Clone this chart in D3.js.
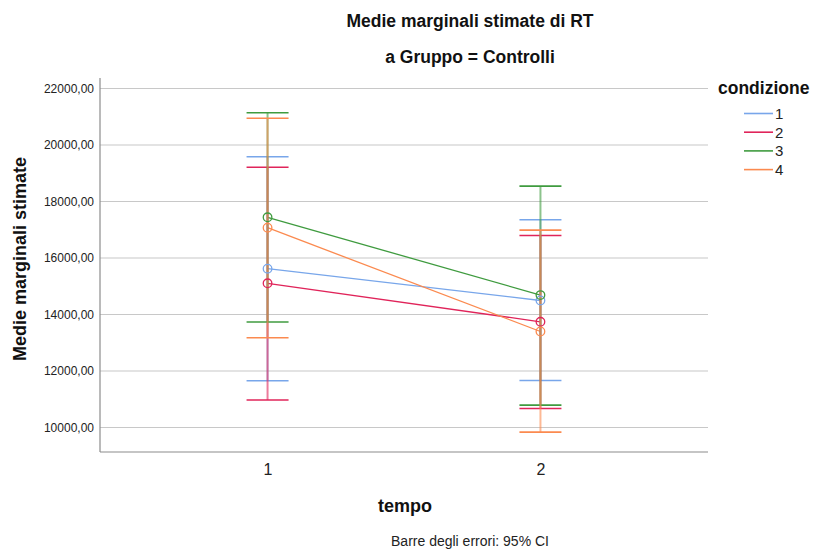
<!DOCTYPE html>
<html><head><meta charset="utf-8">
<script src="https://cdn.jsdelivr.net/npm/d3@7"></script>
<style>
body{margin:0;background:#fff;}
text{font-family:"Liberation Sans",Arial,sans-serif;}
</style></head>
<body><svg id="c" width="814" height="552"></svg>
<script>
const categories = ["1","2"];
const seriesNames = ["1","2","3","4"];
const means = [
  [15621, 14496],
  [15104, 13742],
  [17441, 14687],
  [17073, 13398]
];
const lower = [
  [11657, 11664],
  [10973, 10673],
  [13735, 10793],
  [13179, 9837]
];
const upper = [
  [19586, 17352],
  [19211, 16796],
  [21143, 18545],
  [20945, 16988]
];
const yTicks = [10000,12000,14000,16000,18000,20000,22000];
const colors = ["#78a6ea","#e0245a","#3f9b3f","#fb8a4f"];

const svg = d3.select("#c");
const pLeft = 100, pRight = 708, pTop = 78, pBottom = 452;
const y = d3.scaleLinear().domain([10000,22000]).range([427.5,88.5]);
const x = d3.scalePoint().domain(categories).range([pLeft,pRight]).padding(0.614);

// gridlines
svg.append("g").selectAll("line").data(yTicks).join("line")
  .attr("x1",pLeft).attr("x2",pRight)
  .attr("y1",d=>y(d)).attr("y2",d=>y(d))
  .attr("stroke","#c8c8c8").attr("stroke-width",1.2);

// y axis
const fmt = d => d3.format("d")(d) + ",00";
const ya = svg.append("g").attr("transform",`translate(${pLeft},0)`)
  .call(d3.axisLeft(y).tickValues(yTicks).tickFormat(fmt).tickSize(0).tickPadding(6));
ya.select(".domain").remove();
ya.selectAll("text").attr("font-size","12px").attr("fill","#222");
svg.append("line").attr("x1",pLeft).attr("x2",pLeft).attr("y1",pTop).attr("y2",pBottom)
  .attr("stroke","#8c8c8c").attr("stroke-width",1.2);

// x axis
const xa = svg.append("g").attr("transform",`translate(0,${pBottom})`)
  .call(d3.axisBottom(x).tickSize(0).tickPadding(12));
xa.select(".domain").remove();
xa.selectAll("text").attr("font-size","16px").attr("fill","#222");
svg.append("line").attr("x1",pLeft).attr("x2",pRight).attr("y1",pBottom).attr("y2",pBottom)
  .attr("stroke","#8c8c8c").attr("stroke-width",1.2);

// lines
const line = d3.line().x((d,i)=>x(categories[i])).y(d=>y(d));
seriesNames.forEach((s,si)=>{
  svg.append("path").datum(means[si]).attr("d",line)
    .attr("fill","none").attr("stroke",colors[si]).attr("stroke-width",1.3);
});

// error bars
const capW = 21;
seriesNames.forEach((s,si)=>{
  const g = svg.append("g").attr("stroke",colors[si]);
  categories.forEach((c,ci)=>{
    const cx = x(c);
    g.append("line").attr("x1",cx).attr("x2",cx)
      .attr("y1",y(lower[si][ci])).attr("y2",y(upper[si][ci]))
      .attr("stroke-width",2).attr("stroke-opacity",0.6);
    [lower[si][ci],upper[si][ci]].forEach(v=>{
      g.append("line").attr("x1",cx-capW).attr("x2",cx+capW)
        .attr("y1",y(v)).attr("y2",y(v)).attr("stroke-width",1.6);
    });
  });
});

// markers
seriesNames.forEach((s,si)=>{
  svg.append("g").selectAll("circle").data(means[si]).join("circle")
    .attr("cx",(d,i)=>x(categories[i])).attr("cy",d=>y(d)).attr("r",4.3)
    .attr("fill","none").attr("stroke",colors[si]).attr("stroke-width",1.3);
});

// titles
svg.append("text").attr("x",470).attr("y",27).attr("text-anchor","middle")
  .attr("font-size","17.5px").attr("font-weight","bold").attr("fill","#111")
  .text("Medie marginali stimate di RT");
svg.append("text").attr("x",470).attr("y",63).attr("text-anchor","middle")
  .attr("font-size","17.5px").attr("font-weight","bold").attr("fill","#111")
  .text("a Gruppo = Controlli");
svg.append("text").attr("transform","translate(26,259) rotate(-90)").attr("text-anchor","middle")
  .attr("font-size","18px").attr("font-weight","bold").attr("fill","#111")
  .text("Medie marginali stimate");
svg.append("text").attr("x",405).attr("y",512).attr("text-anchor","middle")
  .attr("font-size","18px").attr("font-weight","bold").attr("fill","#111")
  .text("tempo");
svg.append("text").attr("x",470).attr("y",546).attr("text-anchor","middle")
  .attr("font-size","14px").attr("fill","#222")
  .text("Barre degli errori: 95% CI");

// legend
svg.append("text").attr("x",718).attr("y",94)
  .attr("font-size","17.5px").attr("font-weight","bold").attr("fill","#111")
  .text("condizione");
const lg = svg.append("g").selectAll("g").data(seriesNames).join("g")
  .attr("transform",(d,i)=>`translate(0,${113.5+i*18.7})`);
lg.append("line").attr("x1",744).attr("x2",773).attr("y1",0).attr("y2",0)
  .attr("stroke",(d,i)=>colors[i]).attr("stroke-width",1.6);
lg.append("text").attr("x",775).attr("y",5.5).attr("font-size","15px").attr("fill","#222")
  .text(d=>d);
</script></body></html>
